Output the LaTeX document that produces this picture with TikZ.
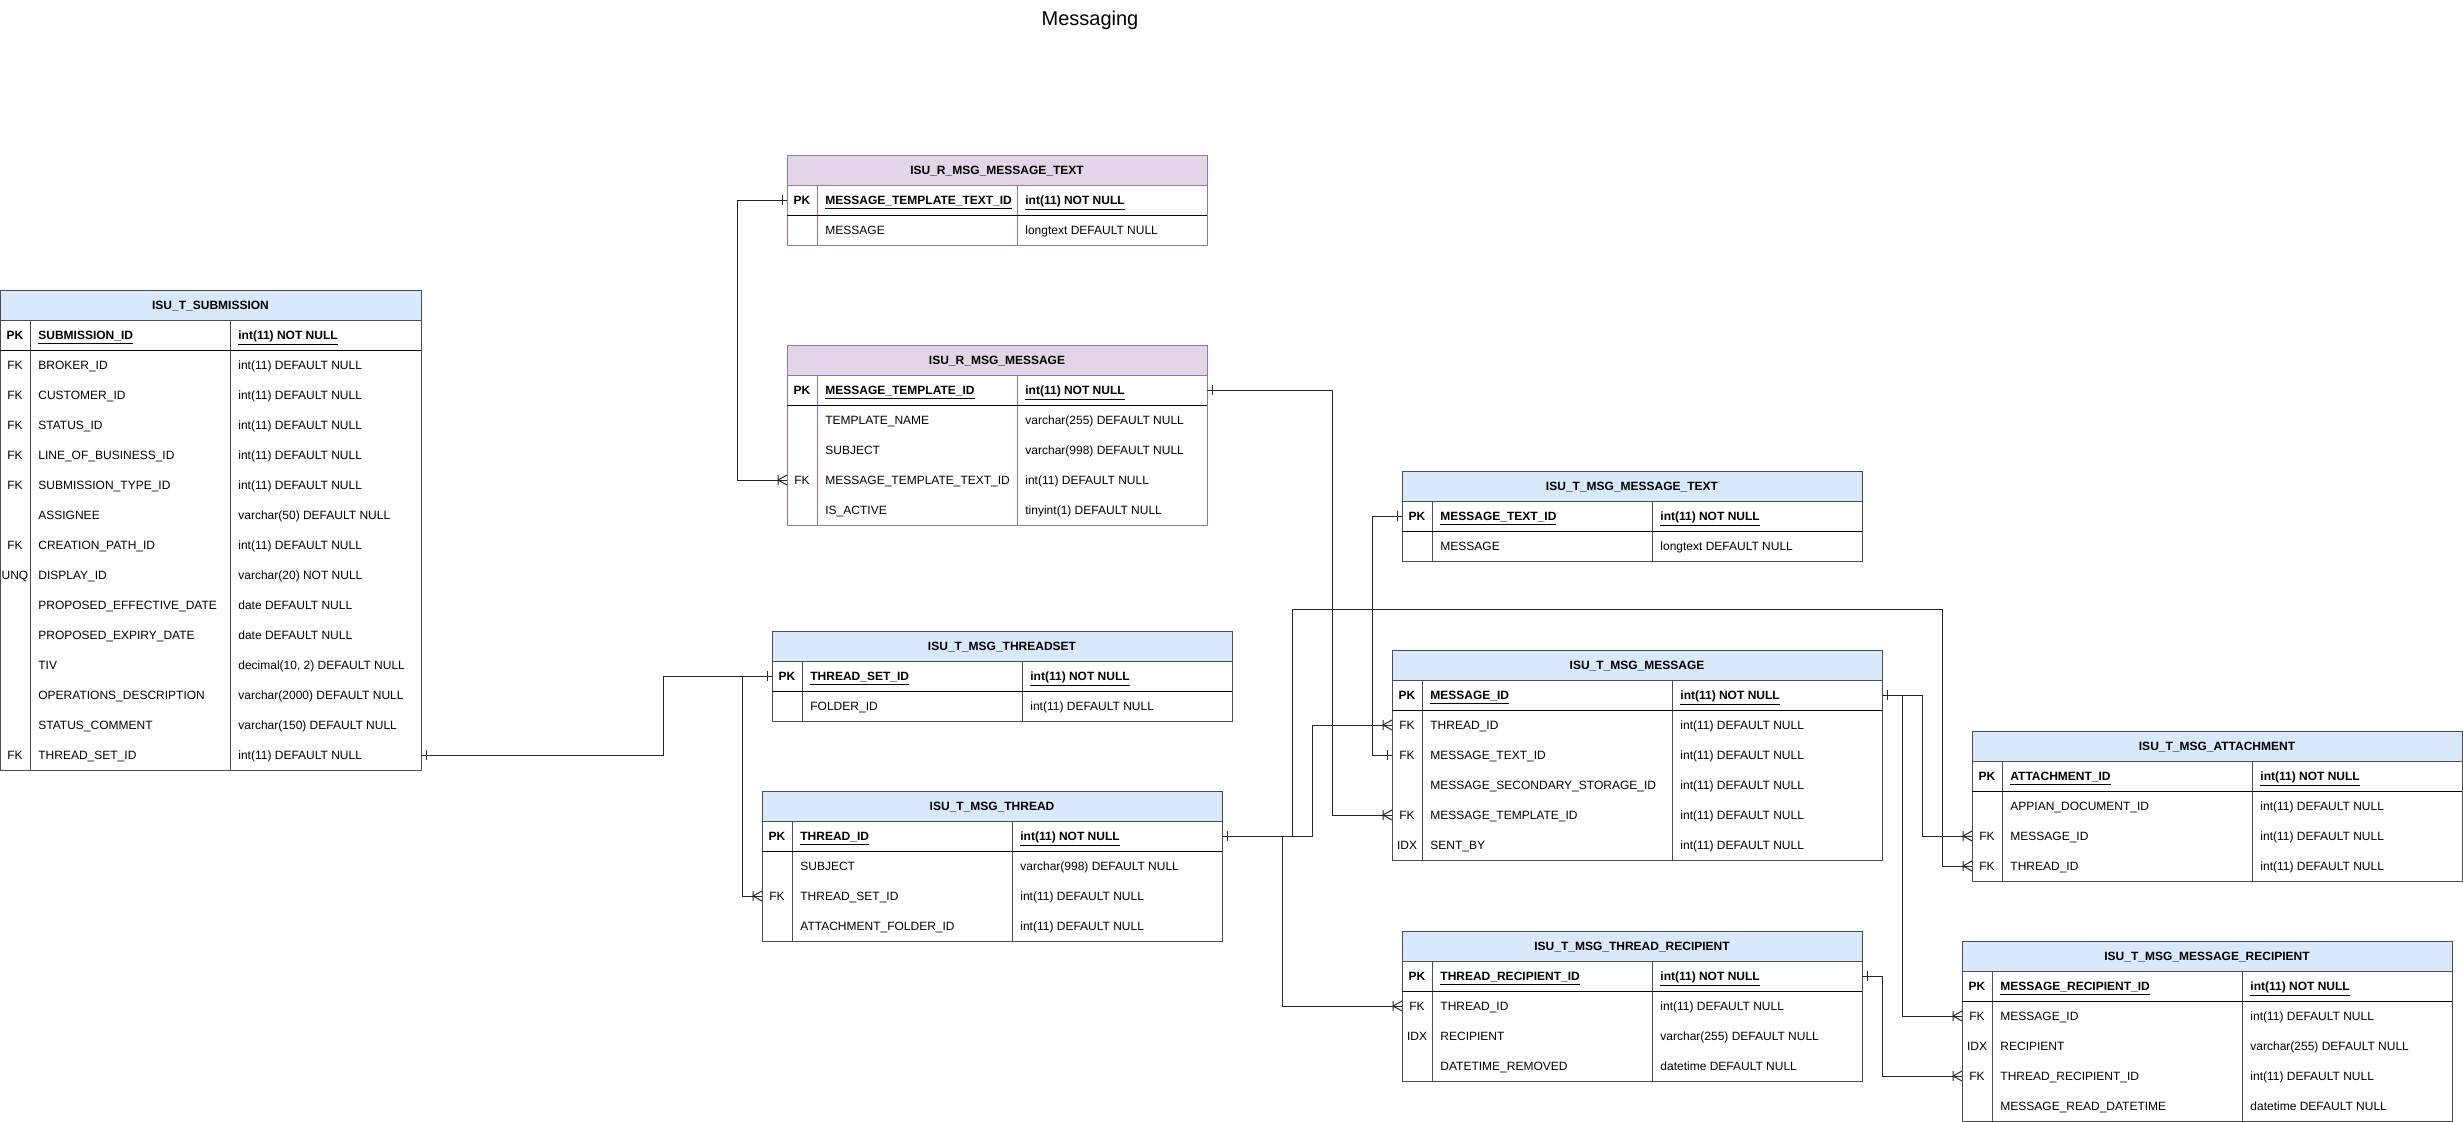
\documentclass[tikz,border=0pt]{standalone}
\usepackage{fontspec}
\setmainfont{Liberation Sans}
\usetikzlibrary{calc}

\definecolor{hdblue}{HTML}{DAE8FC}
\definecolor{hdpurple}{HTML}{E1D5E7}
\definecolor{lnpurple}{HTML}{9673A6}

\newcommand{\tblfont}{\fontsize{6pt}{7.2pt}\selectfont}
% id, x, y, key width, name width, type width, colour, title, rows
\newcommand{\erTable}[9]{%
  \pgfmathsetmacro\tblw{#4+#5+#6}
  \node (#1-h) [head, #7head, minimum width=\tblw*0.5pt, anchor=north west] at (#2,#3) {\bfseries #8};
  \foreach \rk/\rn/\rt [count=\i from 0] in {#9} {
    \node (#1-\i) [row, minimum width=\tblw*0.5pt, anchor=north west] at (#2,#3+30+30*\i) {};
    \ifnum\i=0
      \node [cell, anchor=center] at ($(#1-\i.west)+(#4/2,0)$) {\bfseries\rk};
      \node [cell] at ($(#1-\i.west)+(#4+8,0)$) {\bfseries\underline{\rn}};
      \node [cell] at ($(#1-\i.west)+(#4+#5+8,0)$) {\bfseries\underline{\rt}};
    \else
      \node [cell, anchor=center] at ($(#1-\i.west)+(#4/2,0)$) {\rk};
      \node [cell] at ($(#1-\i.west)+(#4+8,0)$) {\rn};
      \node [cell] at ($(#1-\i.west)+(#4+#5+8,0)$) {\rt};
    \fi
    \xdef\lastrow{\i}
  }
  \draw [#7line] (#1-h.north west) rectangle (#1-\lastrow.south east);
  \draw [#7line] (#1-h.south west) -- (#1-h.south east);
  \draw [#7line] ($(#1-0.north west)+(#4,0)$) -- ($(#1-\lastrow.south west)+(#4,0)$);
  \draw [#7line] ($(#1-0.north west)+(#4+#5,0)$) -- ($(#1-\lastrow.south west)+(#4+#5,0)$);
  \draw [pkline] (#1-0.south west) -- (#1-0.south east);
}

\begin{document}
\begin{tikzpicture}[x=0.5pt,y=-0.5pt,
    head/.style={inner sep=0pt, outer sep=0pt, minimum height=15pt, font=\tblfont,
                 text height=4.4pt, text depth=0pt},
    bluehead/.style={fill=hdblue},
    purplehead/.style={fill=hdpurple},
    row/.style={inner sep=0pt, outer sep=0pt, minimum height=15pt},
    cell/.style={inner sep=0pt, anchor=west, font=\tblfont, text height=4.4pt, text depth=0pt},
    blueline/.style={draw=black!70, line width=0.5pt},
    purpleline/.style={draw=lnpurple, line width=0.5pt},
    pkline/.style={draw=black, line width=0.5pt},
    conn/.style={draw=black!85, line width=0.5pt},
    pics/onemark/.style={code={\draw[conn] (-5,-5) -- (-5,5);}},
    pics/manymark/.style={code={\draw[conn] (-9,-5) -- (-9,5) (-9,0) -- (0,-5) (-9,0) -- (0,5);}}]
  \useasboundingbox (0,0) rectangle (2463,1121);

  \node (title) [font=\fontsize{10pt}{12pt}\selectfont] at (1090,20) {Messaging};

  \erTable{submission}{0}{290}{30}{200}{191}{blue}{ISU\_T\_SUBMISSION}{
    PK/SUBMISSION\_ID/int(11) NOT NULL,
    FK/BROKER\_ID/int(11) DEFAULT NULL,
    FK/CUSTOMER\_ID/int(11) DEFAULT NULL,
    FK/STATUS\_ID/int(11) DEFAULT NULL,
    FK/LINE\_OF\_BUSINESS\_ID/int(11) DEFAULT NULL,
    FK/SUBMISSION\_TYPE\_ID/int(11) DEFAULT NULL,
    /ASSIGNEE/varchar(50) DEFAULT NULL,
    FK/CREATION\_PATH\_ID/int(11) DEFAULT NULL,
    UNQ/DISPLAY\_ID/varchar(20) NOT NULL,
    /PROPOSED\_EFFECTIVE\_DATE/date DEFAULT NULL,
    /PROPOSED\_EXPIRY\_DATE/date DEFAULT NULL,
    /TIV/{decimal(10, 2) DEFAULT NULL},
    /OPERATIONS\_DESCRIPTION/varchar(2000) DEFAULT NULL,
    /STATUS\_COMMENT/varchar(150) DEFAULT NULL,
    FK/THREAD\_SET\_ID/int(11) DEFAULT NULL}

  \erTable{tmpltext}{787}{155}{30}{200}{190}{purple}{ISU\_R\_MSG\_MESSAGE\_TEXT}{
    PK/MESSAGE\_TEMPLATE\_TEXT\_ID/int(11) NOT NULL,
    /MESSAGE/longtext DEFAULT NULL}

  \erTable{template}{787}{345}{30}{200}{190}{purple}{ISU\_R\_MSG\_MESSAGE}{
    PK/MESSAGE\_TEMPLATE\_ID/int(11) NOT NULL,
    /TEMPLATE\_NAME/varchar(255) DEFAULT NULL,
    /SUBJECT/varchar(998) DEFAULT NULL,
    FK/MESSAGE\_TEMPLATE\_TEXT\_ID/int(11) DEFAULT NULL,
    /IS\_ACTIVE/tinyint(1) DEFAULT NULL}

  \erTable{threadset}{772}{631}{30}{220}{210}{blue}{ISU\_T\_MSG\_THREADSET}{
    PK/THREAD\_SET\_ID/int(11) NOT NULL,
    /FOLDER\_ID/int(11) DEFAULT NULL}

  \erTable{thread}{762}{791}{30}{220}{210}{blue}{ISU\_T\_MSG\_THREAD}{
    PK/THREAD\_ID/int(11) NOT NULL,
    /SUBJECT/varchar(998) DEFAULT NULL,
    FK/THREAD\_SET\_ID/int(11) DEFAULT NULL,
    /ATTACHMENT\_FOLDER\_ID/int(11) DEFAULT NULL}

  \erTable{msgtext}{1402}{471}{30}{220}{210}{blue}{ISU\_T\_MSG\_MESSAGE\_TEXT}{
    PK/MESSAGE\_TEXT\_ID/int(11) NOT NULL,
    /MESSAGE/longtext DEFAULT NULL}

  \erTable{message}{1392}{650}{30}{250}{210}{blue}{ISU\_T\_MSG\_MESSAGE}{
    PK/MESSAGE\_ID/int(11) NOT NULL,
    FK/THREAD\_ID/int(11) DEFAULT NULL,
    FK/MESSAGE\_TEXT\_ID/int(11) DEFAULT NULL,
    /MESSAGE\_SECONDARY\_STORAGE\_ID/int(11) DEFAULT NULL,
    FK/MESSAGE\_TEMPLATE\_ID/int(11) DEFAULT NULL,
    IDX/SENT\_BY/int(11) DEFAULT NULL}

  \erTable{threadrcpt}{1402}{931}{30}{220}{210}{blue}{ISU\_T\_MSG\_THREAD\_RECIPIENT}{
    PK/THREAD\_RECIPIENT\_ID/int(11) NOT NULL,
    FK/THREAD\_ID/int(11) DEFAULT NULL,
    IDX/RECIPIENT/varchar(255) DEFAULT NULL,
    /DATETIME\_REMOVED/datetime DEFAULT NULL}

  \erTable{attach}{1972}{731}{30}{250}{210}{blue}{ISU\_T\_MSG\_ATTACHMENT}{
    PK/ATTACHMENT\_ID/int(11) NOT NULL,
    /APPIAN\_DOCUMENT\_ID/int(11) DEFAULT NULL,
    FK/MESSAGE\_ID/int(11) DEFAULT NULL,
    FK/THREAD\_ID/int(11) DEFAULT NULL}

  \erTable{msgrcpt}{1962}{941}{30}{250}{210}{blue}{ISU\_T\_MSG\_MESSAGE\_RECIPIENT}{
    PK/MESSAGE\_RECIPIENT\_ID/int(11) NOT NULL,
    FK/MESSAGE\_ID/int(11) DEFAULT NULL,
    IDX/RECIPIENT/varchar(255) DEFAULT NULL,
    FK/THREAD\_RECIPIENT\_ID/int(11) DEFAULT NULL,
    /MESSAGE\_READ\_DATETIME/datetime DEFAULT NULL}

  % relations
  \coordinate (thrbus) at (1942,609);
  \draw [conn] (submission-14.east) -- ++(242,0) |- (threadset-0.west);
  \draw [conn] (threadset-0.west) -- ++(-30,0) |- (thread-2.west);
  \draw [conn] (tmpltext-0.west) -- ++(-50,0) |- (template-3.west);
  \draw [conn] (template-0.east) -- ++(125,0) |- (message-4.west);
  \draw [conn] (msgtext-0.west) -- ++(-30,0) |- (message-2.west);
  \draw [conn] (thread-0.east) -- ++(90,0) |- (message-1.west);
  \draw [conn] (thread-0.east) -- ++(70,0) |- (thrbus) |- (attach-3.west);
  \draw [conn] (thread-0.east) -- ++(60,0) |- (threadrcpt-1.west);
  \draw [conn] (message-0.east) -- ++(40,0) |- (attach-2.west);
  \draw [conn] (message-0.east) -- ++(20,0) |- (msgrcpt-1.west);
  \draw [conn] (threadrcpt-0.east) -- ++(20,0) |- (msgrcpt-3.west);

  % cardinality marks
  \foreach \p in {threadset-0.west, tmpltext-0.west, msgtext-0.west, message-2.west}
    \pic at (\p) {onemark};
  \foreach \p in {submission-14.east, template-0.east, thread-0.east, message-0.east, threadrcpt-0.east}
    \pic [xscale=-1] at (\p) {onemark};
  \foreach \p in {thread-2.west, template-3.west, message-4.west, message-1.west, attach-3.west,
                  threadrcpt-1.west, attach-2.west, msgrcpt-1.west, msgrcpt-3.west}
    \pic at (\p) {manymark};
\end{tikzpicture}
\end{document}
